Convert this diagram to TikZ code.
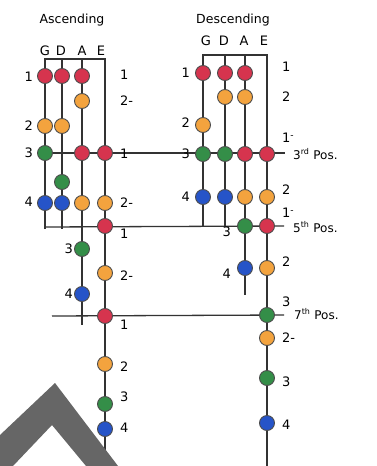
\documentclass[tikz,border=0pt]{standalone}
\usepackage{fontspec}
\setmainfont{DejaVu Sans}

\definecolor{finger1}{RGB}{214,52,78}
\definecolor{finger2}{RGB}{243,163,62}
\definecolor{finger3}{RGB}{52,142,72}
\definecolor{finger4}{RGB}{38,84,200}
\definecolor{patch}{RGB}{102,102,102}

\begin{document}
\begin{tikzpicture}[x=1pt, y=-1pt,
    string/.style={line width=1.3pt, draw=black!80},
    dot/.style={circle, draw=black!70, line width=0.9pt, minimum size=15pt, inner sep=0pt},
    num/.style={font=\fontsize{13}{13}\selectfont, inner sep=0pt},
    head/.style={font=\fontsize{12.5}{12.5}\selectfont, inner sep=0pt},
    strname/.style={font=\fontsize{13}{13}\selectfont, inner sep=0pt},
    posname/.style={font=\fontsize{12}{12}\selectfont, inner sep=0pt, anchor=west}]
\useasboundingbox (0,0) rectangle (377,466);

% headings
\node[head] (asc) at (72,20) {Ascending};
\node[head] (desc) at (233,20) {Descending};
\foreach \s/\x in {G/45,D/61,A/82,E/101}
  \node[strname] (aname\s) at (\x,51) {\s};
\foreach \s/\x in {G/206,D/224,A/244,E/264}
  \node[strname] (dname\s) at (\x,41) {\s};

% string ends
\coordinate (aG) at (45,59);   \coordinate (aGend) at (45,229);
\coordinate (aD) at (62,59);   \coordinate (aDend) at (62,229);
\coordinate (aA) at (82,59);   \coordinate (aAend) at (82,325);
\coordinate (aE) at (105,59);  \coordinate (aEend) at (105,466);
\coordinate (dG) at (203,55);  \coordinate (dGend) at (203,226);
\coordinate (dD) at (225,55);  \coordinate (dDend) at (225,226);
\coordinate (dA) at (245,55);  \coordinate (dAend) at (245,295);
\coordinate (dE) at (267,55);  \coordinate (dEend) at (267,466);

% position lines
\coordinate (p3a) at (45,153);  \coordinate (p3b) at (285,153);
\coordinate (p5a) at (45,227);  \coordinate (p5b) at (284,226);
\coordinate (p7a) at (52,316);  \coordinate (p7b) at (284,315);

% strings
\draw[string] (aGend) -- (aG) -- (aE) -- (aEend);
\draw[string] (aD) -- (aDend);
\draw[string] (aA) -- (aAend);
\draw[string] (dGend) -- (dG) -- (dE) -- (dEend);
\draw[string] (dD) -- (dDend);
\draw[string] (dA) -- (dAend);
\draw[string] (p3a) -- (p3b);
\draw[string] (p5a) -- (p5b);
\draw[string] (p7a) -- (p7b);

% ascending fingering
\foreach \n/\x/\y/\c in {G1/45/76/finger1, D1/62/76/finger1, A1/82/76/finger1,
    A2/82/101/finger2, G2/45/126/finger2, D2/62/126/finger2,
    G3/45/153/finger3, A3/82/153/finger1, E3/105/153/finger1,
    D3/62/182/finger3,
    G4/45/203/finger4, D4/62/203/finger4, A4/82/203/finger2, E4/105/203/finger2,
    E5/105/226/finger1, A5/82/249/finger3, E6/105/273/finger2, A6/82/294/finger4,
    E7/105/316/finger1, E8/105/364/finger2, E9/105/404/finger3, E10/105/429/finger4}
  \node[dot, fill=\c] (a\n) at (\x,\y) {};

% descending fingering
\foreach \n/\x/\y/\c in {G1/203/73/finger1, D1/225/73/finger1, A1/245/73/finger1,
    D2/225/97/finger2, A2/245/97/finger2, G2/203/125/finger2,
    G3/203/154/finger3, D3/225/154/finger3, A3/245/154/finger1, E3/267/154/finger1,
    G4/203/197/finger4, D4/225/197/finger4, A4/245/197/finger2, E4/267/197/finger2,
    A5/245/226/finger3, E5/267/226/finger1, A6/245/268/finger4, E6/267/268/finger2,
    E7/267/315/finger3, E8/267/338/finger2, E9/267/378/finger3, E10/267/423/finger4}
  \node[dot, fill=\c] (d\n) at (\x,\y) {};

% ascending numbers
\foreach \t/\x/\y [count=\i] in {1/33/77, 2/33/126, 3/33/153, 4/33/202, 3/73/249, 4/73/294}
  \node[num, anchor=east] (al\i) at (\x,\y) {\t};
\foreach \t/\y [count=\i] in {1/75, 2-/101, 1/154, 2-/203, 1/234, 2-/276, 1/325, 2/367, 3/397, 4/428}
  \node[num, anchor=west] (ar\i) at (120,\y) {\t};

% descending numbers
\foreach \t/\x/\y [count=\i] in {1/190/73, 2/190/123, 3/190/154, 4/190/197, 3/231/232, 4/231/274}
  \node[num, anchor=east] (dl\i) at (\x,\y) {\t};
\foreach \t/\y [count=\i] in {1/67, 2/97, 1\textsuperscript{-}/138, 2/190, 1\textsuperscript{-}/213,
    2/262, 3/302, 2-/338, 3/382, 4/425}
  \node[num, anchor=west] (dr\i) at (282,\y) {\t};

% positions
\node[posname] (pos3) at (293,154) {3\textsuperscript{rd} Pos.};
\node[posname] (pos5) at (293,227) {5\textsuperscript{th} Pos.};
\node[posname] (pos7) at (294,314) {7\textsuperscript{th} Pos.};

% grey patch
\fill[patch] (0,435) -- (55,383) -- (118,466) -- (86,466) -- (52,425) -- (13,466) -- (0,466) -- cycle;

\end{tikzpicture}
\end{document}
